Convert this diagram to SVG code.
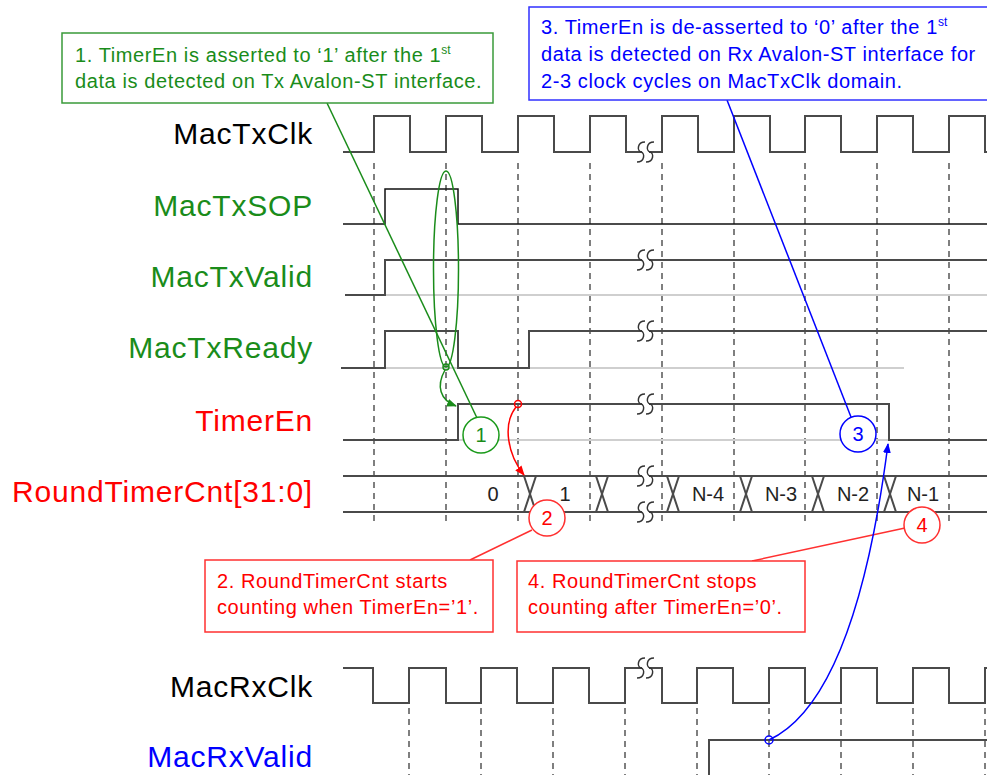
<svg xmlns="http://www.w3.org/2000/svg" width="987" height="775" viewBox="0 0 987 775">
<style>
.w{fill:none;stroke:#4a4a4a;stroke-width:2}
.sop{fill:none;stroke:#111;stroke-width:1.5}
.gr{fill:none;stroke:#cfcfcf;stroke-width:2}
.d{stroke:#555;stroke-width:1.5;stroke-dasharray:6 5}
.lbl{font-family:"Liberation Sans",Arial,sans-serif;font-size:30px;letter-spacing:0.8px;text-anchor:end}
.ct{font-family:"Liberation Sans",Arial,sans-serif;font-size:20px;letter-spacing:0.6px}
.sup{font-size:12px;letter-spacing:0}
.bv{font-family:"Liberation Sans",Arial,sans-serif;font-size:20px;text-anchor:middle;fill:#222}
.cn{font-family:"Liberation Sans",Arial,sans-serif;font-size:20px;text-anchor:middle}
.brk path{fill:none;stroke:#333;stroke-width:1.5}
</style>
<defs>
<g id="brk" class="brk">
<rect x="-3" y="-2.5" width="7" height="5" fill="#fff"/>
<path d="M0,-10 C-8,-10 -8,-1 -4,0 C0,1 0,10 -8,10"/>
<path d="M9,-10 C1,-10 1,-1 5,0 C9,1 9,10 1,10"/>
</g>
<marker id="ag" viewBox="0 0 10 8" refX="9" refY="4" markerWidth="10" markerHeight="8" markerUnits="userSpaceOnUse" orient="auto"><path d="M0,0 L10,4 L0,8 z" fill="#1a8c1a"/></marker>
<marker id="ar" viewBox="0 0 10 8" refX="9" refY="4" markerWidth="10" markerHeight="8" markerUnits="userSpaceOnUse" orient="auto"><path d="M0,0 L10,4 L0,8 z" fill="#ff0000"/></marker>
<marker id="ab" viewBox="0 0 10 8" refX="9" refY="4" markerWidth="10" markerHeight="8" markerUnits="userSpaceOnUse" orient="auto"><path d="M0,0 L10,4 L0,8 z" fill="#0000ff"/></marker>
</defs>
<rect width="987" height="775" fill="#fff"/>

<g id="gridlines">
<line class="d" x1="374" y1="163" x2="374" y2="523"/>
<line class="d" x1="446" y1="163" x2="446" y2="523"/>
<line class="d" x1="518" y1="163" x2="518" y2="523"/>
<line class="d" x1="590" y1="163" x2="590" y2="523"/>
<line class="d" x1="662" y1="163" x2="662" y2="523"/>
<line class="d" x1="734" y1="163" x2="734" y2="523"/>
<line class="d" x1="805" y1="163" x2="805" y2="523"/>
<line class="d" x1="877" y1="163" x2="877" y2="523"/>
<line class="d" x1="949" y1="163" x2="949" y2="523"/>
<line class="d" x1="409" y1="708" x2="409" y2="775"/>
<line class="d" x1="481" y1="708" x2="481" y2="775"/>
<line class="d" x1="553" y1="708" x2="553" y2="775"/>
<line class="d" x1="625" y1="708" x2="625" y2="775"/>
<line class="d" x1="697" y1="708" x2="697" y2="775"/>
<line class="d" x1="769" y1="708" x2="769" y2="775"/>
<line class="d" x1="841" y1="708" x2="841" y2="775"/>
<line class="d" x1="913" y1="708" x2="913" y2="775"/>
<line class="d" x1="985" y1="708" x2="985" y2="775"/>
</g>

<g id="MacTxClk">
<text class="lbl" x="313" y="144" fill="#000">MacTxClk</text>
<path class="w" d="M343,152 H374 V116 H410 V152 H446 V116 H482 V152 H518 V116 H554 V152 H590 V116 H626 V152 H662 V116 H698 V152 H734 V116 H770 V152 H805 V116 H841 V152 H877 V116 H913 V152 H949 V116 H985 V152 H987"/>
<use href="#brk" transform="translate(645,152)"/>
</g>

<g id="MacTxSOP">
<text class="lbl" x="313" y="216" fill="#1a8c1a">MacTxSOP</text>
<path class="sop" d="M343,224 H385 V189 H458 V224 H987"/>
</g>

<g id="MacTxValid">
<text class="lbl" x="313" y="287" fill="#1a8c1a">MacTxValid</text>
<path class="gr" d="M385,295 H987"/>
<path class="w" d="M345,295 H385 V260 H987"/>
<use href="#brk" transform="translate(645,260)"/>
</g>

<g id="MacTxReady">
<text class="lbl" x="313" y="358" fill="#1a8c1a">MacTxReady</text>
<path class="gr" d="M385,368 H904"/>
<path class="w" d="M341,368 H385 V331 H458 V368 H529 V331 H987"/>
<use href="#brk" transform="translate(645,331)"/>
</g>

<g id="TimerEn">
<text class="lbl" x="313" y="431" fill="#ff0000">TimerEn</text>
<path class="gr" d="M458,440 H889"/>
<path class="w" d="M343,440 H458 V404 H889 V440 H987"/>
<use href="#brk" transform="translate(645,404)"/>
</g>

<g id="RoundTimerCnt">
<text class="lbl" x="313" y="502" fill="#ff0000">RoundTimerCnt[31:0]</text>
<path class="w" d="M343,476 H987 M343,512 H987"/>
<path class="w" d="M524,476 L536,512 M536,476 L524,512 M596,476 L608,512 M608,476 L596,512 M667,476 L679,512 M679,476 L667,512 M740,476 L752,512 M752,476 L740,512 M812,476 L824,512 M824,476 L812,512 M884,476 L896,512 M896,476 L884,512"/>
<use href="#brk" transform="translate(645,476)"/>
<use href="#brk" transform="translate(645,512)"/>
<text class="bv" x="493" y="501">0</text>
<text class="bv" x="565" y="501">1</text>
<text class="bv" x="708" y="501">N-4</text>
<text class="bv" x="781" y="501">N-3</text>
<text class="bv" x="853" y="501">N-2</text>
<text class="bv" x="923" y="501">N-1</text>
</g>

<g id="MacRxClk">
<text class="lbl" x="313" y="697" fill="#000">MacRxClk</text>
<path class="w" d="M343,668 H373 V703 H409 V668 H446 V703 H481 V668 H517 V703 H553 V668 H589 V703 H625 V668 H662 V703 H697 V668 H733 V703 H769 V668 H805 V703 H841 V668 H877 V703 H913 V668 H949 V703 H985 V668 H987"/>
<use href="#brk" transform="translate(645,668)"/>
</g>

<g id="MacRxValid">
<text class="lbl" x="313" y="767" fill="#0000ff">MacRxValid</text>
<path class="w" d="M709,775 V740 H987"/>
</g>

<g id="connectors" fill="none">
<line x1="327" y1="103" x2="477" y2="418" stroke="#1a8c1a" stroke-width="1.5"/>
<ellipse cx="446" cy="269" rx="12.5" ry="98" stroke="#1a8c1a" stroke-width="1.5"/>
<circle cx="446" cy="367" r="3" stroke="#1a8c1a" stroke-width="1.5"/>
<path d="M445,370 C436,386 440,400 456,406" stroke="#1a8c1a" stroke-width="1.5" marker-end="url(#ag)"/>
<circle cx="518" cy="404" r="3.5" stroke="#ff0000" stroke-width="1.5"/>
<path d="M516,407 C502,425 508,455 524,475" stroke="#ff0000" stroke-width="1.5" marker-end="url(#ar)"/>
<line x1="532" y1="530" x2="470" y2="560" stroke="#ff3030" stroke-width="1.5"/>
<line x1="905" y1="528" x2="752" y2="561" stroke="#ff3030" stroke-width="1.5"/>
<line x1="727" y1="100" x2="851" y2="417" stroke="#0000ff" stroke-width="1.5"/>
<path d="M769,740 Q855,700 888,444" stroke="#0000ff" stroke-width="1.5" marker-end="url(#ab)"/>
<circle cx="769" cy="740" r="4" stroke="#0000ff" stroke-width="1.5"/>
</g>

<g id="c1"><circle cx="481" cy="435" r="18" fill="#fff" stroke="#1a9a1a" stroke-width="1.5"/><text class="cn" x="481" y="442" fill="#1a8c1a">1</text></g>
<g id="c2"><circle cx="547" cy="518" r="18" fill="#fff" stroke="#ff3030" stroke-width="1.5"/><text class="cn" x="547" y="525" fill="#ff0000">2</text></g>
<g id="c3"><circle cx="858" cy="434" r="18" fill="#fff" stroke="#0000ff" stroke-width="1.5"/><text class="cn" x="858" y="441" fill="#0000ff">3</text></g>
<g id="c4"><circle cx="922" cy="525" r="18" fill="#fff" stroke="#ff3030" stroke-width="1.5"/><text class="cn" x="922" y="532" fill="#ff0000">4</text></g>

<g id="note1">
<rect x="62" y="33" width="431" height="70" fill="#fff" stroke="#3a9a3a" stroke-width="1.5"/>
<text class="ct" fill="#1a8c1a"><tspan x="75" y="62">1. TimerEn is asserted to ‘1’ after the 1<tspan class="sup" dy="-8">st</tspan></tspan><tspan x="75" y="88">data is detected on Tx Avalon-ST interface.</tspan></text>
</g>

<g id="note3">
<rect x="529" y="7" width="470" height="93" fill="#fff" stroke="#3030ff" stroke-width="1.5"/>
<text class="ct" fill="#0000ff"><tspan x="541" y="34">3. TimerEn is de-asserted to ‘0’ after the 1<tspan class="sup" dy="-8">st</tspan></tspan><tspan x="541" y="61">data is detected on Rx Avalon-ST interface for</tspan><tspan x="541" y="88">2-3 clock cycles on MacTxClk domain.</tspan></text>
</g>

<g id="note2">
<rect x="205" y="560" width="288" height="72" fill="#fff" stroke="#ff3030" stroke-width="1.5"/>
<text class="ct" fill="#ff0000"><tspan x="217" y="588">2. RoundTimerCnt starts</tspan><tspan x="217" y="614">counting when TimerEn=’1’.</tspan></text>
</g>

<g id="note4">
<rect x="517" y="561" width="288" height="71" fill="#fff" stroke="#ff3030" stroke-width="1.5"/>
<text class="ct" fill="#ff0000"><tspan x="528" y="588">4. RoundTimerCnt stops</tspan><tspan x="528" y="614">counting after TimerEn=’0’.</tspan></text>
</g>
</svg>
